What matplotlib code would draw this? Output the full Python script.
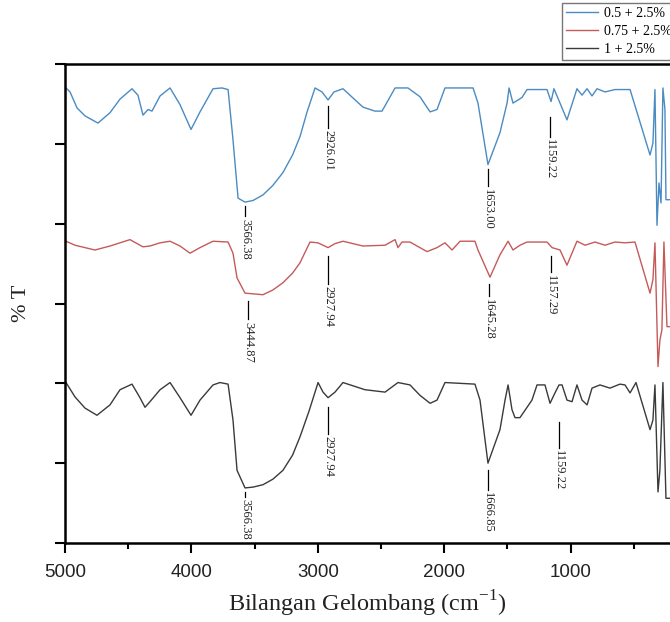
import matplotlib
matplotlib.use("Agg")
import matplotlib.pyplot as plt
from matplotlib.ticker import MultipleLocator

# FTIR spectra, stacked (arbitrary %T offset units)
wn_blue = [4992, 4960, 4905, 4842, 4739, 4644, 4565, 4470, 4423, 4383, 4343, 4312,
           4248, 4169, 4090, 4003, 3932, 3829, 3758, 3710, 3671, 3631, 3576, 3513,
           3434, 3355, 3276, 3200, 3141, 3085, 3022, 2967, 2919, 2872, 2801, 2643,
           2548, 2492, 2389, 2287, 2192, 2112, 2057, 1994, 1772, 1733, 1654, 1559,
           1503, 1487, 1456, 1385, 1345, 1187, 1155, 1132, 1084, 1029, 950, 910,
           870, 831, 791, 728, 649, 570, 530, 372, 349, 333, 317, 301, 285, 270,
           254, 246, 214]
t_blue = [5.70, 5.65, 5.45, 5.35, 5.26, 5.39, 5.56, 5.69, 5.61, 5.36, 5.43, 5.41,
          5.60, 5.70, 5.49, 5.18, 5.40, 5.69, 5.70, 5.68, 5.05, 4.32, 4.27, 4.29,
          4.36, 4.48, 4.64, 4.86, 5.09, 5.40, 5.70, 5.65, 5.55, 5.65, 5.69, 5.46,
          5.41, 5.41, 5.70, 5.70, 5.59, 5.40, 5.43, 5.70, 5.70, 5.51, 4.74, 5.14,
          5.51, 5.70, 5.51, 5.58, 5.68, 5.68, 5.53, 5.69, 5.51, 5.30, 5.69, 5.61,
          5.69, 5.60, 5.69, 5.65, 5.68, 5.68, 5.68, 4.86, 5.01, 5.68, 3.98, 4.51,
          4.26, 5.70, 5.43, 4.30, 4.30]

wn_red = [4992, 4921, 4763, 4644, 4486, 4407, 4383, 4328, 4248, 4169, 4090, 4011,
          3932, 3829, 3710, 3671, 3639, 3576, 3434, 3355, 3276, 3200, 3141, 3062,
          2999, 2919, 2864, 2801, 2643, 2468, 2389, 2366, 2334, 2271, 2136, 2057,
          1994, 1938, 1875, 1757, 1733, 1638, 1559, 1495, 1456, 1401, 1345, 1187,
          1147, 1084, 1029, 950, 886, 807, 728, 649, 570, 491, 372, 349, 333, 309,
          294, 278, 262, 238, 214]
t_red = [3.78, 3.73, 3.67, 3.72, 3.80, 3.73, 3.71, 3.72, 3.76, 3.78, 3.72, 3.63,
         3.70, 3.78, 3.77, 3.63, 3.32, 3.13, 3.11, 3.17, 3.26, 3.38, 3.51, 3.77,
         3.76, 3.70, 3.75, 3.78, 3.72, 3.73, 3.80, 3.70, 3.77, 3.77, 3.65, 3.70,
         3.76, 3.67, 3.78, 3.78, 3.67, 3.33, 3.61, 3.78, 3.67, 3.73, 3.77, 3.77,
         3.70, 3.67, 3.48, 3.78, 3.73, 3.77, 3.73, 3.77, 3.76, 3.77, 3.13, 3.30,
         3.76, 2.21, 2.54, 2.67, 3.77, 2.71, 2.71]

wn_black = [4992, 4921, 4842, 4747, 4644, 4565, 4470, 4407, 4367, 4328, 4248, 4169,
            4090, 4003, 3932, 3829, 3774, 3710, 3671, 3639, 3576, 3513, 3434, 3355,
            3276, 3200, 3141, 3070, 2998, 2959, 2919, 2864, 2801, 2627, 2468, 2366,
            2271, 2192, 2112, 2057, 1994, 1757, 1717, 1654, 1559, 1519, 1495, 1464,
            1440, 1401, 1306, 1266, 1203, 1163, 1124, 1092, 1068, 1029, 989, 950,
            910, 870, 831, 768, 689, 610, 570, 530, 483, 372, 349, 333, 309, 294,
            270, 246, 214]
t_black = [2.01, 1.83, 1.69, 1.60, 1.73, 1.92, 1.99, 1.82, 1.70, 1.77, 1.92, 2.01,
           1.82, 1.60, 1.79, 1.98, 2.01, 1.99, 1.54, 0.91, 0.69, 0.70, 0.73, 0.80,
           0.91, 1.10, 1.33, 1.65, 2.01, 1.89, 1.82, 1.89, 2.01, 1.92, 1.89, 2.01,
           1.98, 1.85, 1.75, 1.79, 2.01, 1.99, 1.79, 1.00, 1.42, 1.79, 1.98, 1.67,
           1.57, 1.57, 1.79, 1.98, 1.98, 1.75, 1.88, 1.98, 1.98, 1.79, 1.77, 1.98,
           1.79, 1.73, 1.94, 1.98, 1.94, 1.99, 1.98, 1.88, 2.01, 1.42, 1.54, 1.98,
           0.64, 0.91, 2.01, 0.56, 0.56]

series_labels = ["0.5 + 2.5%", "0.75 + 2.5%", "1 + 2.5%"]
colors = ["#4a8bc2", "#c55a5a", "#3a3a3a"]

# peak labels: wavenumber, text, top of the marker line, marker line length
peaks_blue = [(3576, "3566.38", 4.22, 0.13), (2919, "2926.01", 5.48, 0.28),
              (1654, "1653.00", 4.68, 0.21), (1163, "1159.22", 5.34, 0.25)]
peaks_red = [(3552, "3444.87", 3.03, 0.23), (2919, "2927.94", 3.60, 0.35),
             (1645, "1645.28", 3.25, 0.16), (1155, "1157.29", 3.60, 0.21)]
peaks_black = [(3576, "3566.38", 0.64, 0.06), (2919, "2927.94", 1.70, 0.33),
               (1654, "1666.85", 0.92, 0.25), (1092, "1159.22", 1.52, 0.33)]

plt.rcParams["font.family"] = ["Liberation Serif", "DejaVu Serif"]

fig = plt.figure(figsize=(6.7, 6.22), dpi=100)
ax = fig.add_axes([65 / 670, 1 - 543 / 622, 1 - 65 / 670, (543 - 64) / 622])

for wn, t, c, lab in zip([wn_blue, wn_red, wn_black], [t_blue, t_red, t_black], colors, series_labels):
    ax.plot(wn, t, color=c, lw=1.0, label=lab)

for peaks in [peaks_blue, peaks_red, peaks_black]:
    for wn, txt, ytop, ln in peaks:
        ax.plot([wn, wn], [ytop, ytop - ln], color="black", lw=0.9)
        ax.text(wn, ytop - ln - 0.03, txt, rotation=-90, ha="center", va="top", fontsize=9,
                color="#222222")

ax.set_xlim(5000, 214)
ax.set_ylim(0, 6)
ax.xaxis.set_major_locator(MultipleLocator(1000))
ax.xaxis.set_minor_locator(MultipleLocator(500))
ax.set_yticks([0, 1, 2, 3, 4, 5, 6])
ax.set_yticklabels([])
ax.tick_params(axis="both", which="major", direction="out", length=7, width=1.5)
ax.tick_params(axis="x", which="minor", direction="out", length=4, width=1.5)
ax.tick_params(axis="x", pad=8)
for lab in ax.get_xticklabels():
    lab.set_fontfamily("Liberation Sans")
    lab.set_fontsize(13.5)
    lab.set_color("#222222")

ax.spines["right"].set_visible(False)
for s in ["left", "top", "bottom"]:
    ax.spines[s].set_linewidth(1.8)

ax.set_xlabel("Bilangan Gelombang (cm$^{\\mathregular{-1}}$)", fontsize=17.5, labelpad=6,
              color="#222222")
ax.set_ylabel("% T", fontsize=16, labelpad=14, color="#222222")

leg = fig.legend(loc="upper left", bbox_to_anchor=(562 / 670, 1 - 3 / 622), fontsize=10,
                 frameon=True, fancybox=False, edgecolor="#555555", handlelength=2.3,
                 labelspacing=0.35, borderpad=0.3, handletextpad=0.4, borderaxespad=0)
leg.get_frame().set_linewidth(1.0)

fig.savefig("out.png", dpi=100)
